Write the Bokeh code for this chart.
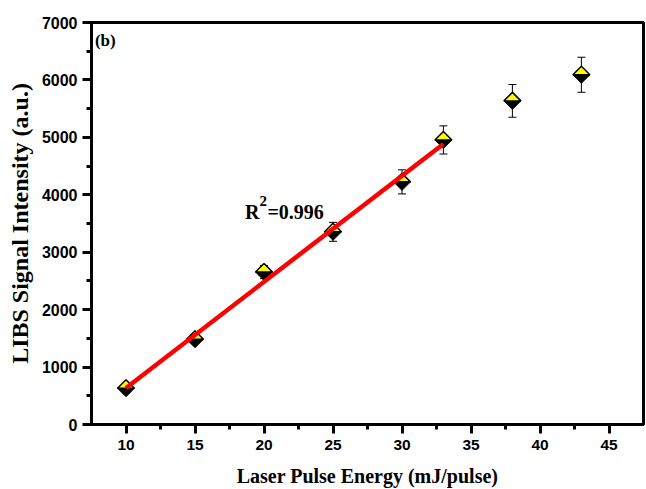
import numpy as np
from bokeh.plotting import figure
from bokeh.models import Range1d, FixedTicker, Whisker, ColumnDataSource, Label, TeeHead
from bokeh.embed import file_html
from bokeh.resources import INLINE

# ---- data ----
energy = [10, 15, 20, 25, 30, 33, 38, 43]            # mJ/pulse
intensity = [632, 1485, 2655, 3355, 4225, 4955, 5635, 6090]  # a.u.
error = [45, 60, 115, 165, 210, 245, 285, 305]
n_fit = 6                                            # first six points used in the linear fit
x_ticks = [10, 15, 20, 25, 30, 35, 40, 45]
y_ticks = [0, 1000, 2000, 3000, 4000, 5000, 6000, 7000]
r2_text = "=0.996"

X0, X1 = 7.5, 47.5
Y0, Y1 = 0, 7000
FW, FH = 552, 402

p = figure(frame_width=FW, frame_height=FH,
           x_range=Range1d(X0, X1), y_range=Range1d(Y0, Y1),
           output_backend="svg", toolbar_location=None,
           min_border_left=91, min_border_right=3,
           min_border_top=22, min_border_bottom=65,
           background_fill_color="white", border_fill_color="white")

p.xgrid.visible = False
p.ygrid.visible = False
p.outline_line_color = "black"
p.outline_line_width = 3
p.outline_line_alpha = 1.0

p.xaxis.ticker = FixedTicker(ticks=x_ticks,
                             minor_ticks=[t + 2.5 for t in x_ticks[:-1]])
p.yaxis.ticker = FixedTicker(ticks=y_ticks,
                             minor_ticks=[t + 500 for t in y_ticks[:-1]])

for ax in (p.xaxis[0], p.yaxis[0]):
    ax.axis_line_width = 3
    ax.axis_line_color = "black"
    ax.major_tick_line_width = 3
    ax.minor_tick_line_width = 3
    ax.major_tick_in = 0
    ax.major_tick_out = 9
    ax.minor_tick_in = 0
    ax.minor_tick_out = 5
    ax.major_label_text_font = "Liberation Sans"
    ax.major_label_text_font_style = "bold"
    ax.major_label_text_color = "black"
    ax.axis_label_text_font = "Liberation Serif"
    ax.axis_label_text_font_style = "bold"
    ax.axis_label_text_color = "black"

p.xaxis.axis_label_text_font_size = "20px"
p.yaxis.axis_label_text_font_size = "24px"
p.xaxis.major_label_text_font_size = "15.5px"
p.yaxis.major_label_text_font_size = "16px"
p.xaxis.major_label_standoff = 6
p.yaxis.major_label_standoff = 5
p.xaxis.axis_label = "Laser Pulse Energy (mJ/pulse)"
p.yaxis.axis_label = "LIBS Signal Intensity (a.u.)"
p.xaxis.axis_label_standoff = 12
p.yaxis.axis_label_standoff = 6

# error bars
src = ColumnDataSource(dict(
    x=energy,
    upper=[v + e for v, e in zip(intensity, error)],
    lower=[v - e for v, e in zip(intensity, error)],
))
p.add_layout(Whisker(base="x", upper="upper", lower="lower", source=src,
                     line_color="black", line_width=1,
                     upper_head=TeeHead(size=8, line_width=1, line_color="black"),
                     lower_head=TeeHead(size=8, line_width=1, line_color="black")))

# half-yellow / half-black diamond markers
px_x = FW / (X1 - X0)
px_y = FH / (Y1 - Y0)
hw = 8.5 / px_x
hh = 8.5 / px_y
low_xs = [[x - hw, x + hw, x] for x in energy]
low_ys = [[y, y, y - hh] for y in intensity]
up_xs = [[x - hw, x + hw, x] for x in energy]
up_ys = [[y, y, y + hh] for y in intensity]
p.patches(low_xs, low_ys, fill_color="black", line_color="black", line_width=1)
p.patches(up_xs, up_ys, fill_color="#FFFF00", line_color="black", line_width=1.5)

# linear fit
fx = np.array(energy[:n_fit], dtype=float)
fy = np.array(intensity[:n_fit], dtype=float)
coef = np.polyfit(fx, fy, 1)
lx = [fx[0], fx[-1]]
p.line(lx, list(np.polyval(coef, lx)), line_color="#FF0000", line_width=4.5)

# annotations
serif = dict(text_font="Liberation Serif", text_font_style="bold", text_color="black")
p.add_layout(Label(x=18.62, y=3700, text="R", text_font_size="20px",
                   text_baseline="alphabetic", **serif))
p.add_layout(Label(x=18.62, y=3700, x_offset=14.5, y_offset=11, text="2",
                   text_font_size="15px", text_baseline="alphabetic", **serif))
p.add_layout(Label(x=18.62, y=3700, x_offset=22.5, text=r2_text,
                   text_font_size="20px", text_baseline="alphabetic", **serif))
p.add_layout(Label(x=7.75, y=6852, text="(b)", text_font_size="17px",
                   text_baseline="top", **serif))

open("out.html", "w").write(file_html(p, INLINE))
